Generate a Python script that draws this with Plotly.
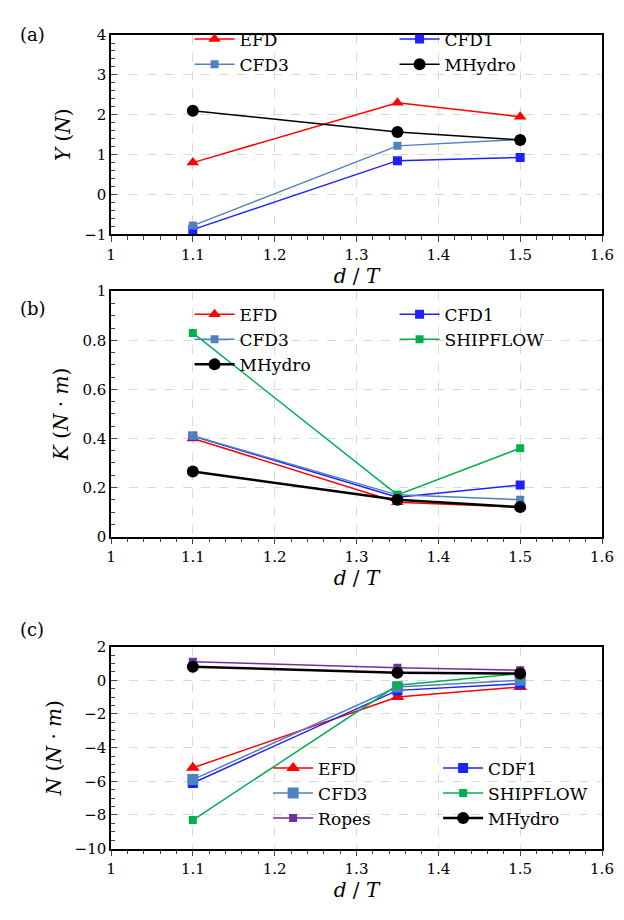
import plotly.graph_objects as go
from plotly.subplots import make_subplots

x = [1.1, 1.35, 1.5]

# (a) sway force Y
y_efd = [0.80, 2.30, 1.95]
y_cfd1 = [-0.88, 0.85, 0.93]
y_cfd3 = [-0.78, 1.22, 1.38]
y_mhydro = [2.10, 1.57, 1.37]

# (b) roll moment K
k_efd = [0.40, 0.14, 0.12]
k_cfd1 = [0.41, 0.16, 0.21]
k_cfd3 = [0.41, 0.17, 0.15]
k_shipflow = [0.83, 0.17, 0.36]
k_mhydro = [0.265, 0.15, 0.12]

# (c) yaw moment N
n_efd = [-5.2, -1.0, -0.4]
n_cdf1 = [-6.1, -0.6, -0.2]
n_cfd3 = [-5.9, -0.4, 0.0]
n_shipflow = [-8.3, -0.3, 0.4]
n_ropes = [1.1, 0.75, 0.6]
n_mhydro = [0.8, 0.45, 0.4]

RED, BLUE, LBLUE, GREEN, PURPLE = "#ff0000", "#1f1fff", "#4f81bd", "#00b050", "#7030a0"
FONT = "DejaVu Serif"

fig = make_subplots(rows=3, cols=1)

def add(row, name, ys, color, symbol, size, width, legend):
    fig.add_trace(go.Scatter(
        x=x, y=ys, name=name, mode="lines+markers",
        line=dict(color=color, width=width),
        marker=dict(color=color, symbol=symbol, size=size),
        legend=legend), row=row, col=1)

add(1, "EFD", y_efd, RED, "triangle-up", 11, 1.5, "legend")
add(1, "CFD1", y_cfd1, BLUE, "square", 9, 1.5, "legend")
add(1, "CFD3", y_cfd3, LBLUE, "square", 8, 1.5, "legend")
add(1, "MHydro", y_mhydro, "black", "circle", 12, 1.5, "legend")

add(2, "EFD", k_efd, RED, "triangle-up", 11, 1.5, "legend2")
add(2, "CFD1", k_cfd1, BLUE, "square", 9, 1.5, "legend2")
add(2, "CFD3", k_cfd3, LBLUE, "square", 8, 1.5, "legend2")
add(2, "SHIPFLOW", k_shipflow, GREEN, "square", 8, 1.5, "legend2")
add(2, "MHydro", k_mhydro, "black", "circle", 12, 2.5, "legend2")

add(3, "EFD", n_efd, RED, "triangle-up", 12, 1.5, "legend3")
add(3, "CDF1", n_cdf1, BLUE, "square", 10, 1.5, "legend3")
add(3, "CFD3", n_cfd3, LBLUE, "square", 11, 1.5, "legend3")
add(3, "SHIPFLOW", n_shipflow, GREEN, "square", 8, 1.5, "legend3")
add(3, "Ropes", n_ropes, PURPLE, "square", 8, 1.5, "legend3")
add(3, "MHydro", n_mhydro, "black", "circle", 12, 2.5, "legend3")

leg = dict(orientation="h", entrywidthmode="pixels",
           bgcolor="rgba(0,0,0,0)", font=dict(family=FONT, size=17, color="black"),
           xanchor="left", yanchor="top", tracegroupgap=0, itemwidth=40)

fig.update_layout(
    width=624, height=920, plot_bgcolor="white", paper_bgcolor="white",
    margin=dict(l=103, r=30, t=0, b=0),
    font=dict(family=FONT, size=15, color="black"),
    legend=dict(leg, x=0.16, y=0.995, entrywidth=150),
    legend2=dict(leg, x=0.16, y=0.69, entrywidth=150),
    legend3=dict(leg, x=0.32, y=0.187, entrywidth=115),
)

doms = [(0.759, 0.980), (0.424, 0.696), (0.078, 0.302)]
yr = [(-1, 4, 1), (0, 1, 0.2), (-10, 2, 2)]
ytitles = ["<i>Y</i> (<i>N</i>)", "<i>K</i> (<i>N</i> · <i>m</i>)", "<i>N</i> (<i>N</i> · <i>m</i>)"]
for i in range(3):
    fig.update_xaxes(row=i + 1, col=1, range=[1, 1.6], dtick=0.1, showline=True, mirror=True,
                     linecolor="black", linewidth=1.5, ticks="outside", ticklen=6,
                     minor=dict(ticks="outside", ticklen=4, dtick=0.02, showgrid=False),
                     showgrid=True, gridcolor="#d9d9d9", griddash="dash", zeroline=False,
                     title=dict(text="<i>d</i> / <i>T</i>", font=dict(size=20), standoff=4))
    lo, hi, dt = yr[i]
    fig.update_yaxes(row=i + 1, col=1, domain=doms[i], range=[lo, hi], dtick=dt,
                     showline=True, mirror=True, linecolor="black", linewidth=1.5,
                     ticks="inside", ticklen=6,
                     minor=dict(ticks="inside", ticklen=4, nticks=6, showgrid=False),
                     showgrid=True, gridcolor="#d9d9d9", griddash="dash", zeroline=False,
                     title=dict(text=ytitles[i], font=dict(size=20), standoff=8))

for lab, yy in [("(a)", 18), ("(b)", 297), ("(c)", 625)]:
    fig.add_annotation(text=lab, xref="paper", yref="paper", x=-0.19, y=1 - yy / 920,
                       xanchor="left", yanchor="middle", showarrow=False, font=dict(size=18))

fig.write_html("out.html")
